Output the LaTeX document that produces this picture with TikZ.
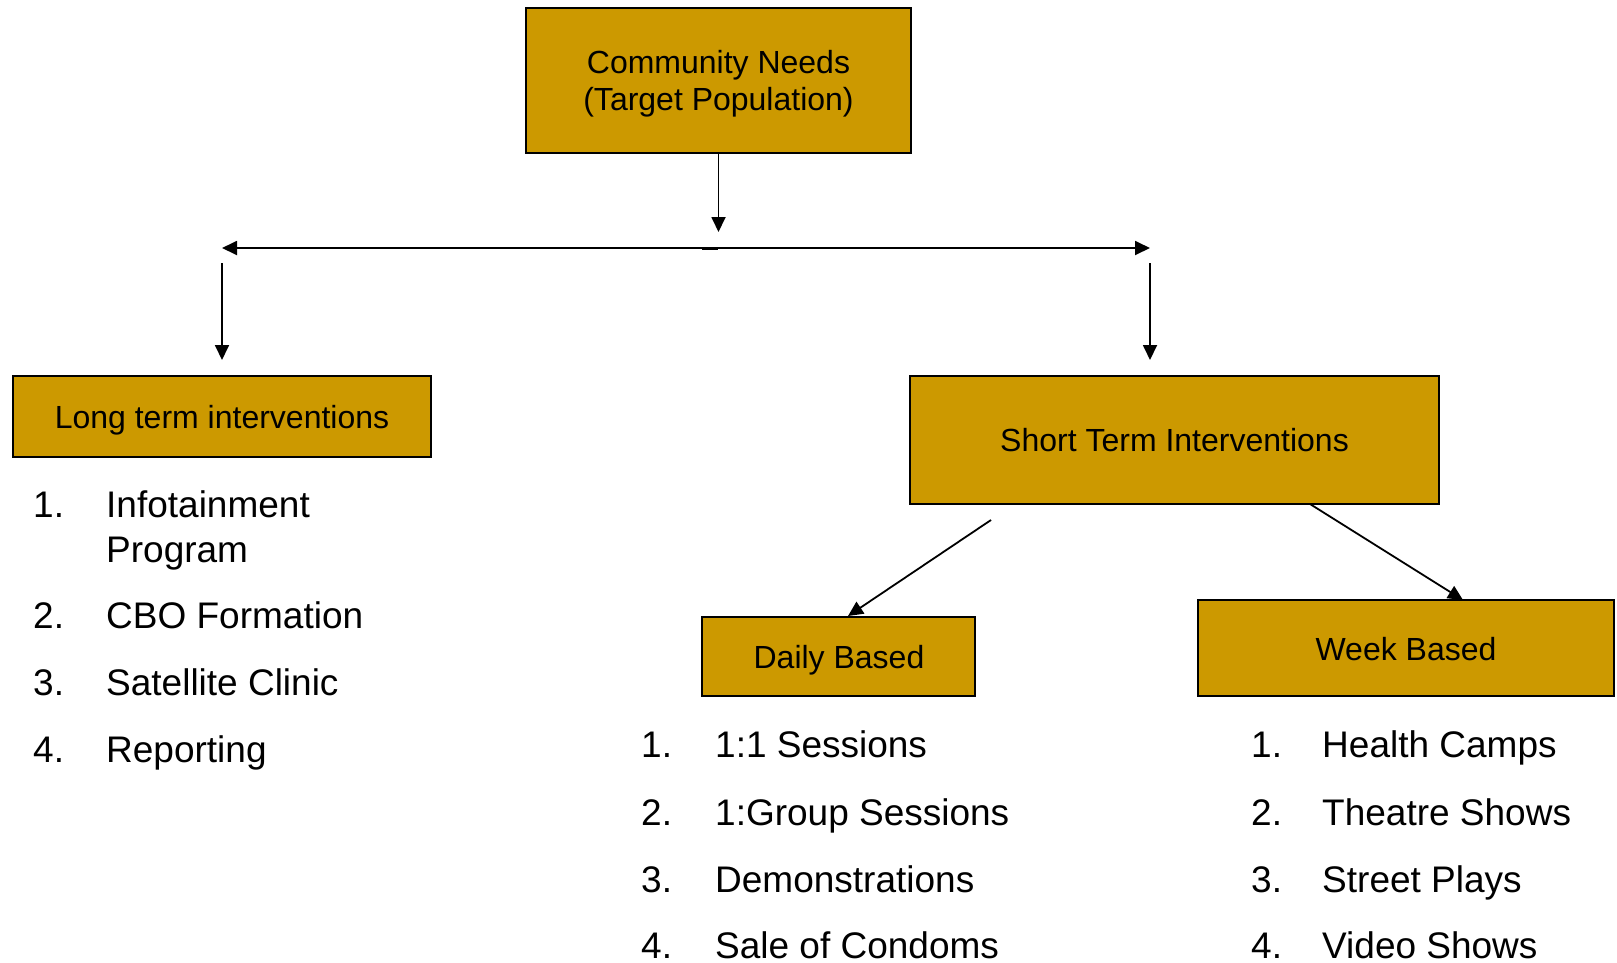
\documentclass[tikz,border=0pt]{standalone}
\usepackage{fontspec}
\setmainfont{Liberation Sans}
\usetikzlibrary{arrows.meta}
\definecolor{boxgold}{RGB}{204,153,0}
\tikzset{
  box/.style={draw=black, line width=1.8pt, fill=boxgold, rectangle, inner sep=0pt},
  boxtext/.style={inner sep=0pt, font=\fontsize{32}{37}\selectfont, anchor=base},
  item/.style={inner sep=0pt, font=\fontsize{37}{45}\selectfont, anchor=base west},
  lastitem/.style={item, text depth=0pt},
  arr/.style={line width=1.8pt, -{Triangle[length=15pt,width=14pt]}},
  darr/.style={line width=1.8pt, {Triangle[length=15pt,width=14pt]}-{Triangle[length=15pt,width=14pt]}}
}
\begin{document}
\begin{tikzpicture}[x=1pt,y=-1pt]
\useasboundingbox (0,0) rectangle (1617,962);

% boxes
\node[box, minimum width=385pt, minimum height=145pt] (cn) at (718.5,80.5) {};
\node[box, minimum width=418pt, minimum height=81pt] (lt) at (222,416.5) {};
\node[box, minimum width=529pt, minimum height=128pt] (st) at (1174.5,440) {};
\node[box, minimum width=273pt, minimum height=79pt] (db) at (838.5,656.5) {};
\node[box, minimum width=416pt, minimum height=96pt] (wb) at (1406,648) {};

% box texts
\node[boxtext] (cn1) at (718.5,73) {Community Needs};
\node[boxtext] (cn2) at (718.5,110) {(Target Population)};
\node[boxtext] (ltt) at (222,428) {Long term interventions};
\node[boxtext] (stt) at (1174.5,451) {Short Term Interventions};
\node[boxtext] (dbt) at (839,668) {Daily Based};
\node[boxtext] (wbt) at (1406,660) {Week Based};

% connector coordinates
\coordinate (cdown) at (718.5,232);
\coordinate (hl) at (222,248);
\coordinate (hr) at (1150,248);
\coordinate (ml) at (702,248);
\coordinate (mr) at (718,248);
\coordinate (vl1) at (222,263);
\coordinate (vl2) at (222,360);
\coordinate (vr1) at (1150,263);
\coordinate (vr2) at (1150,360);
\coordinate (d1) at (991,520);
\coordinate (d2) at (848,616);
\coordinate (w1) at (1310,504);
\coordinate (w2) at (1463,600);

% connectors
\draw[arr] (cn.south) -- (cdown);
\draw[darr] (hl) -- (hr);
\draw[line width=3pt] (ml) -- (mr);
\draw[arr] (vl1) -- (vl2);
\draw[arr] (vr1) -- (vr2);
\draw[arr] (d1) -- (d2);
\draw[arr] (w1) -- (w2);

% long term list
\node[item] (l1n) at (33,517) {1.};
\node[item] (l1t) at (106,517) {Infotainment};
\node[item] (l1u) at (106,562) {Program};
\node[item] (l2n) at (33,628) {2.};
\node[item] (l2t) at (106,628) {CBO Formation};
\node[item] (l3n) at (33,695) {3.};
\node[item] (l3t) at (106,695) {Satellite Clinic};
\node[item] (l4n) at (33,762) {4.};
\node[item] (l4t) at (106,762) {Reporting};

% daily list
\node[item] (d1n) at (641,757) {1.};
\node[item] (d1t) at (715,757) {1:1 Sessions};
\node[item] (d2n) at (641,825) {2.};
\node[item] (d2t) at (715,825) {1:Group Sessions};
\node[item] (d3n) at (641,892) {3.};
\node[item] (d3t) at (715,892) {Demonstrations};
\node[lastitem] (d4n) at (641,958) {4.};
\node[lastitem] (d4t) at (715,958) {Sale of Condoms};

% week list
\node[item] (w1n) at (1251,757) {1.};
\node[item] (w1t) at (1322,757) {Health Camps};
\node[item] (w2n) at (1251,825) {2.};
\node[item] (w2t) at (1322,825) {Theatre Shows};
\node[item] (w3n) at (1251,892) {3.};
\node[item] (w3t) at (1322,892) {Street Plays};
\node[lastitem] (w4n) at (1251,958) {4.};
\node[lastitem] (w4t) at (1322,958) {Video Shows};
\end{tikzpicture}
\end{document}
